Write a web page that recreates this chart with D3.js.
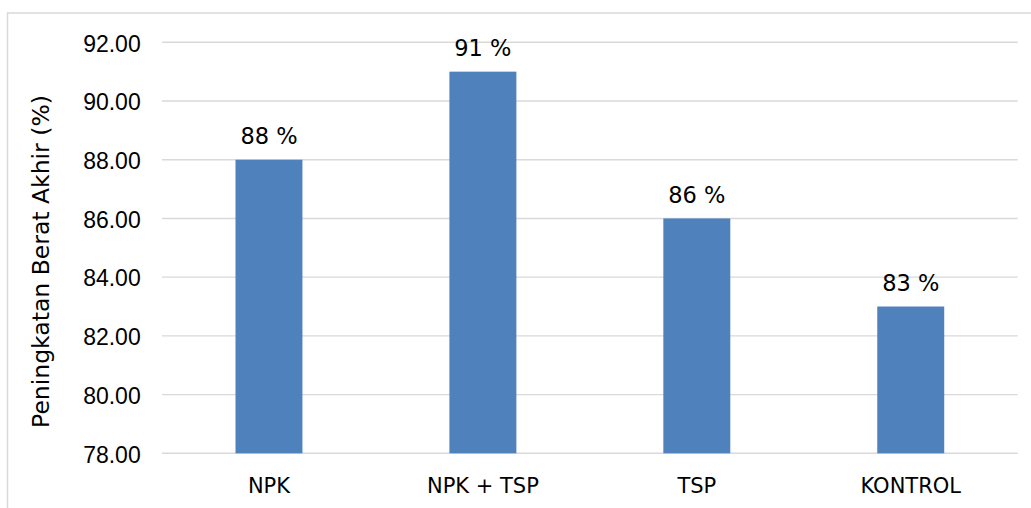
<!DOCTYPE html>
<html>
<head>
<meta charset="utf-8">
<script src="https://cdn.jsdelivr.net/npm/d3@7"></script>
<style>
  html, body { margin: 0; padding: 0; background: #fff; }
  svg { display: block; }
</style>
</head>
<body>
<svg id="chart" width="1031" height="508"></svg>
<script>
// Final weight gain per fertilizer treatment
const categories = ["NPK", "NPK + TSP", "TSP", "KONTROL"];
const values = [88, 91, 86, 83];
const valueLabels = ["88 %", "91 %", "86 %", "83 %"];
const yTicks = [78, 80, 82, 84, 86, 88, 90, 92];
const yTitle = "Peningkatan Berat Akhir (%)";

const W = 1031, H = 508;
const margin = { left: 162, right: 13.3, top: 42.3, bottom: 54.7 };
const svg = d3.select("#chart");

// Chart-area frame (extends past the bottom/right edges)
svg.append("rect")
  .attr("x", 7.5).attr("y", 13)
  .attr("width", W + 10).attr("height", H + 10)
  .attr("fill", "none")
  .attr("stroke", "#d9d9d9")
  .attr("stroke-width", 1.5);

const x = d3.scaleBand()
  .domain(categories)
  .range([margin.left, W - margin.right])
  .paddingInner(0.687)
  .paddingOuter(0.3435);

const y = d3.scaleLinear()
  .domain([78, 92])
  .range([H - margin.bottom, margin.top]);

// Horizontal gridlines
svg.append("g")
  .selectAll("line")
  .data(yTicks)
  .join("line")
  .attr("x1", margin.left)
  .attr("x2", W - margin.right)
  .attr("y1", d => y(d))
  .attr("y2", d => y(d))
  .attr("stroke", "#d9d9d9")
  .attr("stroke-width", 1.4);

// Y axis labels
const yAxis = d3.axisLeft(y)
  .tickValues(yTicks)
  .tickFormat(d3.format(".2f"))
  .tickSize(0)
  .tickPadding(0);

const gy = svg.append("g")
  .attr("transform", `translate(${margin.left - 21.3},0)`)
  .call(yAxis);
gy.select(".domain").remove();
gy.selectAll("text")
  .attr("font-family", "'Liberation Sans', Arial, sans-serif")
  .attr("font-size", 23)
  .attr("fill", "#000")
  .attr("dy", "0.38em");

// Bars
svg.append("g")
  .selectAll("rect")
  .data(values)
  .join("rect")
  .attr("x", (d, i) => x(categories[i]))
  .attr("width", x.bandwidth())
  .attr("y", d => y(d))
  .attr("height", d => y(78) - y(d))
  .attr("fill", "#4f81bd");

// Value labels above bars
svg.append("g")
  .selectAll("text")
  .data(values)
  .join("text")
  .attr("x", (d, i) => x(categories[i]) + x.bandwidth() / 2)
  .attr("y", d => y(d) - 15.5)
  .attr("text-anchor", "middle")
  .attr("font-family", "'DejaVu Sans', Verdana, sans-serif")
  .attr("font-size", 22.5)
  .attr("fill", "#000")
  .text((d, i) => valueLabels[i]);

// X axis category labels
const xAxis = d3.axisBottom(x).tickSize(0).tickPadding(0);
const gx = svg.append("g")
  .attr("transform", `translate(0,${y(78)})`)
  .call(xAxis);
gx.select(".domain").remove();
gx.selectAll("text")
  .attr("font-family", "'DejaVu Sans', Verdana, sans-serif")
  .attr("font-size", 21)
  .attr("fill", "#000")
  .attr("dy", 0)
  .attr("y", 39.4);

// Y axis title
svg.append("text")
  .attr("transform", `translate(49,261.5) rotate(-90)`)
  .attr("text-anchor", "middle")
  .attr("font-family", "'DejaVu Sans', Verdana, sans-serif")
  .attr("font-size", 23.5)
  .attr("fill", "#000")
  .text(yTitle);
</script>
</body>
</html>
